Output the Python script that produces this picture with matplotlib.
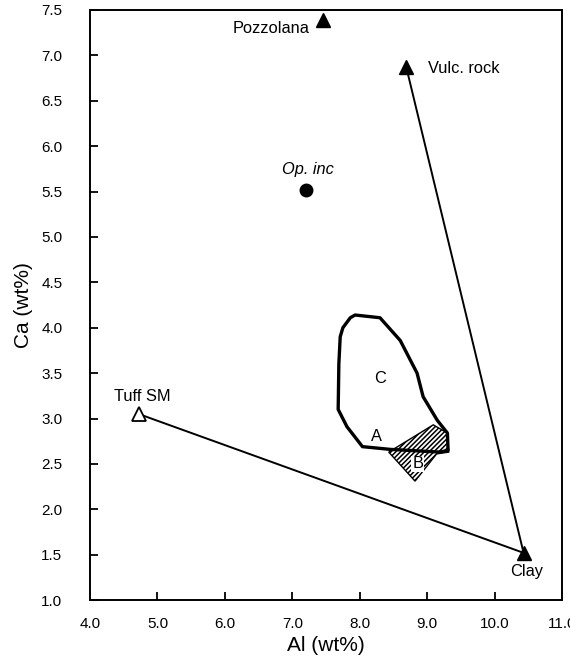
import matplotlib
matplotlib.use("Agg")
import matplotlib.pyplot as plt
from matplotlib.patches import Polygon

plt.rcParams['font.family'] = ['Liberation Sans', 'DejaVu Sans']
plt.rcParams['hatch.linewidth'] = 1.1

# --- Data ---
end_names = ['Pozzolana', 'Vulc. rock', 'Clay']
end_al = [7.46, 8.69, 10.43]
end_ca = [7.39, 6.87, 1.52]

tuff_al, tuff_ca = 4.72, 3.05
opinc_al, opinc_ca = 7.20, 5.52

# mixing lines: Tuff SM -> Clay, Vulc. rock -> Clay
mix1_al = [tuff_al, end_al[2]]
mix1_ca = [tuff_ca, end_ca[2]]
mix2_al = [end_al[1], end_al[2]]
mix2_ca = [end_ca[1], end_ca[2]]

# field C/A outline
field_c_al = [7.93, 8.30, 8.60, 8.85, 8.94, 9.15, 9.30, 9.31, 9.19, 8.45, 8.04, 7.81, 7.68, 7.69, 7.71, 7.75, 7.86]
field_c_ca = [4.14, 4.11, 3.86, 3.50, 3.24, 2.98, 2.84, 2.65, 2.63, 2.66, 2.69, 2.91, 3.10, 3.60, 3.90, 4.00, 4.11]

# field B (hatched)
field_b_al = [8.43, 9.09, 9.30, 9.32, 9.14, 8.82]
field_b_ca = [2.63, 2.93, 2.84, 2.63, 2.61, 2.31]

xticks = [4.0, 5.0, 6.0, 7.0, 8.0, 9.0, 10.0, 11.0]
yticks = [1.0, 1.5, 2.0, 2.5, 3.0, 3.5, 4.0, 4.5, 5.0, 5.5, 6.0, 6.5, 7.0, 7.5]

# --- Plot ---
fig = plt.figure(figsize=(5.7, 6.66), dpi=100)
ax = fig.add_axes([0.158, 0.099, 0.828, 0.886])

ax.plot(mix1_al, mix1_ca, color='black', lw=1.4, zorder=2)
ax.plot(mix2_al, mix2_ca, color='black', lw=1.4, zorder=2)

ax.add_patch(Polygon(list(zip(field_b_al, field_b_ca)), closed=True,
                     facecolor='white', edgecolor='black', hatch='///////', lw=1.0, zorder=3))
ax.add_patch(Polygon(list(zip(field_c_al, field_c_ca)), closed=True,
                     fill=False, edgecolor='black', lw=2.4, joinstyle='round', zorder=4))

ax.plot(end_al, end_ca, '^', color='black', ms=10, zorder=5)
ax.plot([tuff_al], [tuff_ca], '^', mfc='white', mec='black', mew=1.3, ms=10, zorder=5)
ax.plot([opinc_al], [opinc_ca], 'o', color='black', ms=9, zorder=5)

lab = 11.8
ax.text(7.26, 7.30, 'Pozzolana', ha='right', va='center', fontsize=lab)
ax.text(9.01, 6.86, 'Vulc. rock', ha='left', va='center', fontsize=lab)
ax.text(10.48, 1.31, 'Clay', ha='center', va='center', fontsize=lab)
ax.text(4.77, 3.24, 'Tuff SM', ha='center', va='center', fontsize=lab)
ax.text(7.23, 5.74, 'Op. inc', ha='center', va='center', fontsize=lab, style='italic')
ax.text(8.30, 3.44, 'C', ha='center', va='center', fontsize=lab)
ax.text(8.24, 2.80, 'A', ha='center', va='center', fontsize=lab)
ax.text(8.86, 2.50, 'B', ha='center', va='center', fontsize=lab, zorder=6,
        bbox=dict(boxstyle='square,pad=0.05', fc='white', ec='none'))

ax.set_xlim(4.0, 11.0)
ax.set_ylim(1.0, 7.5)
ax.set_xticks(xticks)
ax.set_yticks(yticks)
ax.set_xticklabels([f'{v:.1f}' for v in xticks])
ax.set_yticklabels([f'{v:.1f}' for v in yticks])
ax.tick_params(direction='in', length=6, width=1.3, labelsize=11)
ax.tick_params(axis='x', pad=12)
ax.tick_params(axis='y', pad=20)
for s in ax.spines.values():
    s.set_linewidth(1.4)

ax.set_xlabel('Al (wt%)', fontsize=15, labelpad=4)
ax.set_ylabel('Ca (wt%)', fontsize=15, labelpad=6)

fig.savefig('out.png', dpi=100)
